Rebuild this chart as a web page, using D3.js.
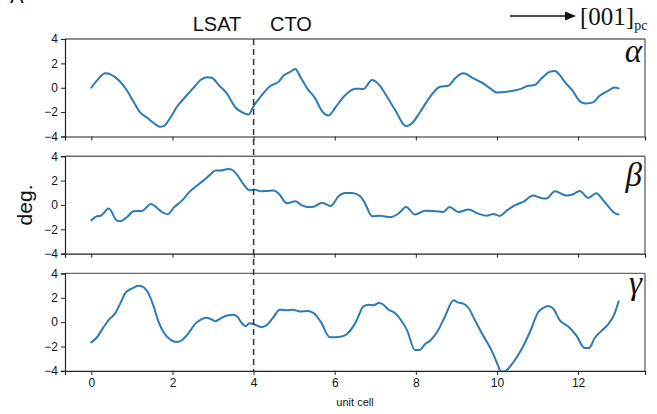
<!DOCTYPE html>
<html>
<head>
<meta charset="utf-8">
<script src="https://cdn.jsdelivr.net/npm/d3@7"></script>
<style>
  html, body { margin: 0; padding: 0; background: #fff; }
  svg { display: block; }
  text { font-family: "Liberation Sans", Arial, sans-serif; fill: #111; }
</style>
</head>
<body>
<svg id="chart" width="657" height="414"></svg>
<script>
// Rotation angles (deg.) along the stacking direction, in unit cells
const xTicks = [0, 2, 4, 6, 8, 10, 12];
const yTicks = [-4, -2, 0, 2, 4];
const interfaceAt = 4; // LSAT | CTO boundary

const alphaX = [0, 0.14, 0.35, 0.47, 0.67, 0.86, 1.04, 1.19, 1.37, 1.58, 1.7, 1.78, 1.95, 2.11, 2.32, 2.52, 2.69, 2.85, 2.97, 3.14, 3.34, 3.55, 3.71, 3.88, 4.0, 4.17, 4.41, 4.62, 4.74, 4.9, 5.03, 5.15, 5.32, 5.52, 5.68, 5.85, 6.02, 6.22, 6.51, 6.71, 6.92, 7.08, 7.29, 7.49, 7.76, 7.9, 8.11, 8.35, 8.6, 8.8, 8.97, 9.17, 9.42, 9.66, 9.83, 9.99, 10.24, 10.57, 10.77, 10.93, 11.1, 11.3, 11.43, 11.55, 11.68, 11.84, 12.08, 12.2, 12.37, 12.53, 12.74, 12.9, 13.0];
const alphaDeg = [0, 0.6, 1.18, 1.1, 0.63, -0.14, -1.15, -1.97, -2.44, -3.0, -3.2, -3.15, -2.44, -1.56, -0.74, 0, 0.63, 0.87, 0.82, 0.22, -0.47, -1.6, -2.0, -2.2, -1.5, -0.74, 0.14, 0.5, 1.0, 1.3, 1.53, 0.9, -0.05, -0.87, -1.89, -2.27, -1.6, -0.74, -0.08, -0.1, 0.63, 0.3, -0.74, -1.83, -3.15, -2.93, -1.97, -0.74, 0.08, 0.16, 0.77, 1.18, 0.77, 0.36, -0.05, -0.38, -0.33, -0.11, 0.16, 0.22, 0.77, 1.3, 1.37, 1.04, 0.44, -0.14, -1.2, -1.29, -1.2, -0.66, -0.25, 0.03, -0.05];

const betaX = [0, 0.14, 0.22, 0.43, 0.63, 0.71, 0.88, 1.04, 1.25, 1.47, 1.62, 1.74, 1.88, 2.03, 2.24, 2.4, 2.56, 2.77, 2.93, 3.06, 3.18, 3.38, 3.46, 3.59, 3.75, 3.9, 4.02, 4.17, 4.33, 4.49, 4.62, 4.82, 5.03, 5.19, 5.32, 5.48, 5.69, 5.9, 6.1, 6.26, 6.43, 6.63, 6.75, 6.92, 7.12, 7.37, 7.57, 7.76, 7.98, 8.23, 8.48, 8.68, 8.83, 9.05, 9.3, 9.54, 9.75, 9.91, 10.07, 10.24, 10.44, 10.65, 10.89, 11.06, 11.22, 11.43, 11.71, 11.88, 12.04, 12.25, 12.45, 12.62, 12.79, 12.9, 13.0];
const betaDeg = [-1.26, -0.93, -0.9, -0.3, -1.29, -1.34, -0.99, -0.52, -0.49, 0.08, -0.25, -0.58, -0.77, -0.22, 0.38, 1.01, 1.48, 2.03, 2.49, 2.82, 2.82, 2.96, 2.9, 2.49, 1.7, 1.2, 1.26, 1.12, 1.15, 1.18, 0.93, 0.14, 0.3, -0.03, -0.16, -0.14, 0.19, -0.08, 0.74, 0.99, 0.99, 0.71, 0.11, -0.93, -0.88, -1.01, -0.71, -0.16, -0.79, -0.47, -0.52, -0.58, -0.16, -0.58, -0.38, -0.71, -0.88, -0.74, -0.9, -0.47, -0.03, 0.25, 0.77, 0.6, 0.52, 1.12, 0.77, 0.88, 1.15, 0.58, 0.96, 0.38, -0.3, -0.66, -0.79];

const gammaX = [0, 0.14, 0.3, 0.43, 0.59, 0.71, 0.84, 1.0, 1.17, 1.27, 1.41, 1.54, 1.66, 1.78, 1.95, 2.1, 2.24, 2.4, 2.56, 2.69, 2.84, 2.93, 3.06, 3.18, 3.34, 3.51, 3.61, 3.69, 3.8, 3.9, 4.02, 4.2, 4.34, 4.49, 4.64, 4.82, 4.97, 5.15, 5.32, 5.48, 5.66, 5.88, 6.14, 6.3, 6.51, 6.71, 6.84, 6.96, 7.08, 7.16, 7.33, 7.49, 7.61, 7.78, 7.98, 8.09, 8.23, 8.35, 8.52, 8.72, 8.93, 9.05, 9.17, 9.3, 9.46, 9.66, 9.87, 10.03, 10.09, 10.17, 10.24, 10.4, 10.61, 10.81, 11.02, 11.14, 11.26, 11.39, 11.55, 11.75, 11.96, 12.16, 12.27, 12.41, 12.57, 12.74, 12.9, 13.0];
const gammaDeg = [-1.66, -1.24, -0.41, 0.19, 0.74, 1.52, 2.4, 2.76, 2.98, 2.9, 2.34, 1.24, 0, -0.83, -1.43, -1.63, -1.46, -0.88, -0.14, 0.19, 0.36, 0.28, 0.08, 0.3, 0.55, 0.61, 0.41, 0, -0.33, -0.08, -0.19, -0.41, -0.19, 0.41, 1.02, 0.97, 1.02, 0.88, 0.91, 0.74, 0, -1.24, -1.19, -0.97, -0.06, 1.3, 1.43, 1.38, 1.57, 1.52, 1.02, 0.74, 0.28, -0.63, -2.29, -2.29, -1.79, -1.52, -0.83, 0.47, 1.79, 1.6, 1.52, 1.16, 0.14, -1.1, -2.34, -3.59, -4.05, -4.05, -3.94, -3.31, -2.21, -0.83, 0.83, 1.16, 1.32, 1.1, 0.14, -0.33, -1.1, -2.12, -2.12, -1.3, -0.74, -0.19, 0.69, 1.71];

const panelNames = ["\u03b1", "\u03b2", "\u03b3"];
const panelX = [alphaX, betaX, gammaX];
const panelDeg = [alphaDeg, betaDeg, gammaDeg];

const svg = d3.select("#chart");
const left = 65, right = 645;
const top0 = 39, panelH = 97.5, step = 117.2;
const lineColor = "#2c7bb6";

const x = d3.scaleLinear().domain([-0.65, 13.65]).range([left, right]);

const defs = svg.append("defs");

panelNames.forEach((name, i) => {
  const top = top0 + i * step;
  const y = d3.scaleLinear().domain([-4, 4]).range([top + panelH, top]);
  const g = svg.append("g");

  defs.append("clipPath").attr("id", "clip" + i)
    .append("rect").attr("x", left).attr("y", top).attr("width", right - left).attr("height", panelH);

  // frame: top and right edges
  g.append("line").attr("x1", left).attr("x2", right).attr("y1", top).attr("y2", top)
    .attr("stroke", "#6a6a6a").attr("stroke-width", 1.4);
  g.append("line").attr("x1", right).attr("x2", right).attr("y1", top).attr("y2", top + panelH)
    .attr("stroke", "#333").attr("stroke-width", 1);

  const xAxis = d3.axisBottom(x).tickValues(xTicks).tickSize(4).tickPadding(4)
    .tickFormat(i === 2 ? d3.format("d") : () => "");
  const gx = g.append("g").attr("transform", `translate(0,${top + panelH})`).call(xAxis);
  gx.select(".domain").attr("stroke", "#222").attr("stroke-width", 1.2);

  const yAxis = d3.axisLeft(y).tickValues(yTicks).tickSize(4).tickPadding(3)
    .tickFormat(d => d < 0 ? "\u2212" + Math.abs(d) : d);
  const gy = g.append("g").attr("transform", `translate(${left},0)`).call(yAxis);
  gy.select(".domain").attr("stroke", "#222").attr("stroke-width", 1.2);

  [gx, gy].forEach(a => {
    a.selectAll(".tick line").attr("stroke", "#222").attr("stroke-width", 1);
    a.selectAll(".tick text").style("font-family", "'Liberation Sans', Arial, sans-serif")
      .style("font-size", "12px").attr("fill", "#111");
  });

  const pts = panelX[i].map((xv, k) => [xv, panelDeg[i][k]]);
  const line = d3.line().x(d => x(d[0])).y(d => y(d[1])).curve(d3.curveMonotoneX);
  g.append("path").datum(pts).attr("d", line).attr("clip-path", `url(#clip${i})`)
    .attr("fill", "none").attr("stroke", lineColor).attr("stroke-width", 2)
    .attr("stroke-linejoin", "round").attr("stroke-linecap", "round");

  // rotation label
  const baselines = [62, 186, 294];
  g.append("text").attr("x", 642).attr("y", baselines[i]).attr("text-anchor", "end")
    .style("font-family", "'Liberation Serif', 'Times New Roman', serif")
    .style("font-style", "italic").style("font-size", "33px").attr("fill", "#111")
    .text(name);
});

// interface marker across all panels
svg.append("line")
  .attr("x1", x(interfaceAt)).attr("x2", x(interfaceAt))
  .attr("y1", top0).attr("y2", top0 + 2 * step + panelH)
  .attr("stroke", "#333").attr("stroke-width", 1.5).attr("stroke-dasharray", "6,4");

// axis titles
svg.append("text").attr("transform", `translate(32,${top0 + (2 * step + panelH) / 2}) rotate(-90)`)
  .attr("text-anchor", "middle").style("font-size", "21px").text("deg.");
svg.append("text").attr("x", (left + right) / 2).attr("y", 406)
  .attr("text-anchor", "middle").style("font-size", "11px").text("unit cell");

// header
svg.append("text").attr("x", 217).attr("y", 31).attr("text-anchor", "middle")
  .style("font-size", "20px").text("LSAT");
svg.append("text").attr("x", 291).attr("y", 31).attr("text-anchor", "middle")
  .style("font-size", "20px").text("CTO");
svg.append("text").attr("x", 17).attr("y", 3).attr("text-anchor", "middle")
  .style("font-size", "20px").text("A");

// growth direction arrow
svg.append("line").attr("x1", 510).attr("x2", 566).attr("y1", 16).attr("y2", 16)
  .attr("stroke", "#111").attr("stroke-width", 1.5);
svg.append("path").attr("d", "M565,11.5 L576,16 L565,20.5 Z").attr("fill", "#111");
const dir = svg.append("text").attr("x", 580).attr("y", 25)
  .style("font-family", "'Liberation Serif', 'Times New Roman', serif").style("font-size", "25px");
dir.append("tspan").text("[001]");
dir.append("tspan").attr("dy", 5).style("font-size", "14px").text("pc");
</script>
</body>
</html>
